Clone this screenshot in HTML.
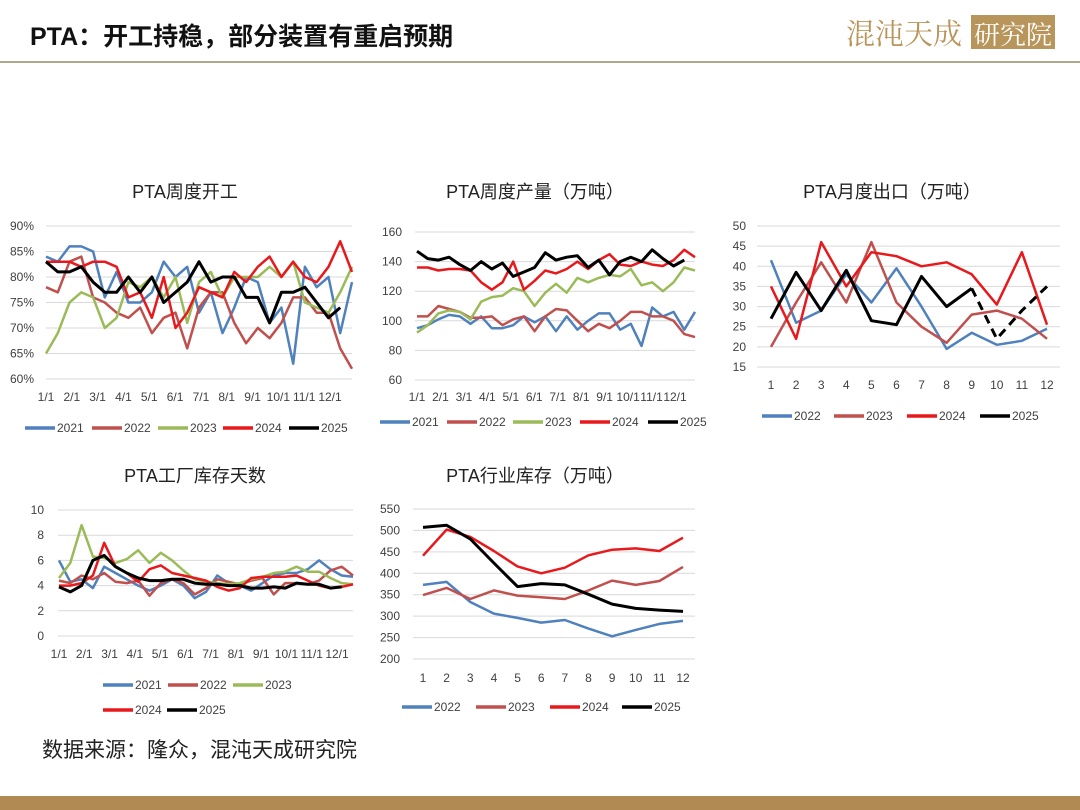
<!DOCTYPE html>
<html><head><meta charset="utf-8">
<style>
body{margin:0;width:1080px;height:810px;background:#fff;overflow:hidden;font-family:"Liberation Sans","Noto Sans CJK SC",sans-serif;}
#c{position:absolute;left:0;top:0}
</style></head>
<body>
<svg id="c" width="1080" height="810" xmlns="http://www.w3.org/2000/svg">
<text x="30" y="45" font-size="25" font-weight="bold" fill="#111" font-family="Liberation Sans, Noto Sans CJK SC, sans-serif">PTA：开工持稳，部分装置有重启预期</text>
<text x="846" y="44" font-size="29" fill="#b8955a" font-family="Noto Serif CJK SC, serif">混沌天成</text>
<rect x="971" y="15" width="84" height="34" fill="#b8955a"/>
<text x="974" y="44" font-size="26" fill="#fff" font-family="Noto Serif CJK SC, serif">研究院</text>
<rect x="0" y="61" width="1080" height="2" fill="#b0a88e"/>
<text x="42" y="757" font-size="21" fill="#222" font-family="Liberation Sans, Noto Sans CJK SC, sans-serif">数据来源：隆众，混沌天成研究院</text>
<rect x="0" y="796" width="1080" height="14" fill="#b08a52"/>
<g id="charts"></g>
</svg>
<script>
// Chart 1: weekly operating rate (%), biweekly points
const c1y2021=[84,83,86,86,85,76,81,75,75,77,83,80,82,73,77,69,74,80,79,71,74,63,82,78,80,69,79];
const c1y2022=[78,77,83,84,76,75,73,72,74,69,72,73,66,74,77,77,71,67,70,68,71,76,76,73,73,66,62];
const c1y2023=[65,69,75,77,76,70,72,79,78,80,76,80,71,79,81,76,80,80,80,82,80,83,75,74,73,77,82];
const c1y2024=[83,83,83,82,83,83,82,76,77,72,80,70,73,78,77,76,81,79,82,84,80,83,80,79,82,87,81];
const c1y2025=[83,81,81,82,79,77,77,80,77,80,75,77,79,83,79,80,80,76,76,71,77,77,78,75,72,74];
const c1Ticks=['60%','65%','70%','75%','80%','85%','90%'];
const monthTicks=['1/1','2/1','3/1','4/1','5/1','6/1','7/1','8/1','9/1','10/1','11/1','12/1'];
// Chart 2: weekly output
const c2y2021=[95,97,101,104,103,98,103,95,95,97,103,99,103,93,103,94,100,105,105,94,98,83,109,103,106,94,106];
const c2y2022=[103,103,110,108,106,102,102,103,97,101,103,93,103,108,107,100,93,98,95,100,106,106,103,103,100,91,89];
const c2y2023=[92,97,105,107,106,101,113,116,117,122,120,110,119,125,119,129,126,129,131,130,135,124,126,120,126,136,134];
const c2y2024=[136,136,134,135,135,134,126,121,126,140,121,127,134,132,135,140,135,141,145,138,137,140,138,137,141,148,143];
const c2y2025=[147,142,141,143,138,134,140,135,139,130,133,136,146,141,143,144,136,141,131,140,143,140,148,142,137,141];
const c2Ticks=['60','80','100','120','140','160'];
// Chart 3: monthly export
const c3y2022=[41.5,26,29,38,31,39.5,30,19.5,23.5,20.5,21.5,24.5];
const c3y2023=[20,31,41,31,46,31,25,21,28,29,27,22];
const c3y2024=[35,22,46,35,43.5,42.5,40,41,38,30.5,43.5,25.5];
const c3y2025=[27,38.5,29,39,26.5,25.5,37.5,30,34.5];
const c3y2025f=[34.5,22,29,35];
const c3Ticks=['15','20','25','30','35','40','45','50'];
const monthNums=['1','2','3','4','5','6','7','8','9','10','11','12'];
// Chart 4: factory inventory days
const c4y2021=[6,4.3,4.5,3.8,5.5,5,4.5,4,3.6,4,4.5,4,3,3.5,4.8,4.2,4,3.6,4.2,4.8,5,5,5.3,6,5.3,4.8,4.7];
const c4y2022=[4.4,4.2,4.8,4.5,5,4.3,4.2,4.4,3.2,4.2,4.5,4.2,3.3,3.8,4.5,4.3,4.1,4.4,4.6,3.3,4.2,4.2,4.1,4.4,5.2,5.5,4.8];
const c4y2023=[4.6,5.8,8.8,6.3,6.2,5.8,6.1,6.8,5.8,6.6,6,5.2,4.5,4.3,4.2,4.1,4.2,4.5,4.7,5,5.1,5.5,5.1,5.1,4.6,4.2,4.1];
const c4y2024=[4,4,4.2,4.8,7.4,5.5,5,4.3,5.3,5.6,5,4.8,4.6,4.4,3.9,3.6,3.8,4.6,4.7,4.7,4.7,4.8,4.4,4,3.8,3.9,4.1];
const c4y2025=[3.9,3.5,4,6,6.4,5.5,5,4.6,4.4,4.4,4.5,4.5,4.2,4.1,4.1,4,4,3.8,3.8,3.9,3.8,4.2,4.1,4.1,3.8,3.9];
const c4Ticks=['0','2','4','6','8','10'];
// Chart 5: industry inventory
const c5y2022=[373,380,333,306,296,285,291,271,253,268,282,289];
const c5y2023=[349,366,340,360,348,344,340,360,383,373,382,415];
const c5y2024=[441,502,485,452,416,400,413,442,455,458,452,483];
const c5y2025=[507,512,480,424,369,376,373,351,328,318,314,311];
const c5Ticks=['200','250','300','350','400','450','500','550'];

const NS='http://www.w3.org/2000/svg';
const G=document.getElementById('charts');
const COLW={'2021':'#4f81bd','2022':'#c0504d','2023':'#9bbb59','2024':'#e8191c','2025':'#000'};
const COLM={'2022':'#4f81bd','2023':'#c0504d','2024':'#e8191c','2025':'#000'};
function mk(tag,attrs,parent){const e=document.createElementNS(NS,tag);for(const k in attrs)e.setAttribute(k,attrs[k]);(parent||G).appendChild(e);return e;}
function txt(x,y,s,size,anchor,parent){const t=mk('text',{x:x,y:y,'font-size':size,fill:'#404040','text-anchor':anchor||'middle','font-family':'Liberation Sans, Noto Sans CJK SC, sans-serif'},parent);t.textContent=s;return t;}

function chart(o){
  const COL=o.col;
  const g=mk('g',{});
  
  
  const t=txt(o.tx,o.ty,o.title,18,'middle',g);t.setAttribute('fill','#222');
  
  
  const ys=v=>o.yb-(v-o.min)/(o.max-o.min)*(o.yb-o.yt);
  o.ticks.forEach(s=>{const v=parseFloat(s);const y=ys(v);
    const l=mk('line',{x1:o.gx0,x2:o.gx1,y1:y,y2:y,stroke:'#d9d9d9','stroke-width':1},g);
    
    
    const tl=txt(o.lx,y+4,s,12,'end',g);
    
    
  });
  o.xticks.forEach((s,i)=>{const x=o.xt0+i*(o.xt1-o.xt0)/(o.xticks.length-1);
    const tl=txt(x,o.xly,s,12,'middle',g);
    
    
  });
  o.series.forEach(sr=>{
    const step=(o.px1-o.px0)/(o.n-1);
    const pts=sr.data.map((v,i)=>(o.px0+(i+(sr.off||0))*step).toFixed(1)+','+ys(v).toFixed(1)).join(' ');
    const p=mk('polyline',{points:pts,fill:'none',stroke:COL[sr.k],'stroke-width':sr.k==='2025'?3:2.5,'stroke-linejoin':'round'},g);
    if(sr.dash)p.setAttribute('stroke-dasharray','9,6');
    
    
  });
  o.legend.forEach(L=>{
    const l=mk('line',{x1:L[1],x2:L[1]+30,y1:L[2],y2:L[2],stroke:COL[L[0]],'stroke-width':3.5},g);
    
    
    const tl=txt(L[1]+32,L[2]+4,L[0],12,'start',g);
    
    
  });
}
chart({name:'weekly-operating-rate-chart',col:COLW,title:'PTA周度开工',tx:185,ty:198,ticks:c1Ticks,min:60,max:90,yt:226,yb:379,gx0:46,gx1:352,lx:34,
  xticks:monthTicks,xt0:46,xt1:330,xly:401,px0:46,px1:352,n:27,
  series:[{k:'2021',data:c1y2021},{k:'2022',data:c1y2022},{k:'2023',data:c1y2023},{k:'2024',data:c1y2024},{k:'2025',data:c1y2025}],
  legend:[['2021',25,428],['2022',92,428],['2023',158,428],['2024',223,428],['2025',289,428]]});
chart({name:'weekly-output-chart',col:COLW,title:'PTA周度产量（万吨）',tx:535,ty:198,ticks:c2Ticks,min:60,max:160,yt:232,yb:380,gx0:415,gx1:695,lx:402,
  xticks:monthTicks,xt0:417,xt1:675,xly:401,px0:417,px1:695,n:27,
  series:[{k:'2021',data:c2y2021},{k:'2022',data:c2y2022},{k:'2023',data:c2y2023},{k:'2024',data:c2y2024},{k:'2025',data:c2y2025}],
  legend:[['2021',380,422],['2022',447,422],['2023',513,422],['2024',580,422],['2025',648,422]]});
chart({name:'monthly-export-chart',col:COLM,title:'PTA月度出口（万吨）',tx:892,ty:198,ticks:c3Ticks,min:15,max:50,yt:226,yb:367,gx0:757,gx1:1060,lx:746,
  xticks:monthNums,xt0:771,xt1:1047,xly:389,px0:771,px1:1047,n:12,
  series:[{k:'2022',data:c3y2022},{k:'2023',data:c3y2023},{k:'2024',data:c3y2024},{k:'2025',data:c3y2025},{k:'2025',data:c3y2025f,off:8,dash:true}],
  legend:[['2022',762,416],['2023',834,416],['2024',907,416],['2025',980,416]]});
chart({name:'factory-inventory-days-chart',col:COLW,title:'PTA工厂库存天数',tx:195,ty:482,ticks:c4Ticks,min:0,max:10,yt:510,yb:636,gx0:58,gx1:353,lx:44,
  xticks:monthTicks,xt0:59,xt1:337,xly:658,px0:59,px1:353,n:27,
  series:[{k:'2021',data:c4y2021},{k:'2022',data:c4y2022},{k:'2023',data:c4y2023},{k:'2024',data:c4y2024},{k:'2025',data:c4y2025}],
  legend:[['2021',103,685],['2022',168,685],['2023',233,685],['2024',103,710],['2025',167,710]]});
chart({name:'industry-inventory-chart',col:COLM,title:'PTA行业库存（万吨）',tx:535,ty:482,ticks:c5Ticks,min:200,max:550,yt:509,yb:659,gx0:413,gx1:695,lx:400,
  xticks:monthNums,xt0:423,xt1:683,xly:682,px0:423,px1:683,n:12,
  series:[{k:'2022',data:c5y2022},{k:'2023',data:c5y2023},{k:'2024',data:c5y2024},{k:'2025',data:c5y2025}],
  legend:[['2022',402,707],['2023',476,707],['2024',550,707],['2025',622,707]]});
</script>
</body></html>
